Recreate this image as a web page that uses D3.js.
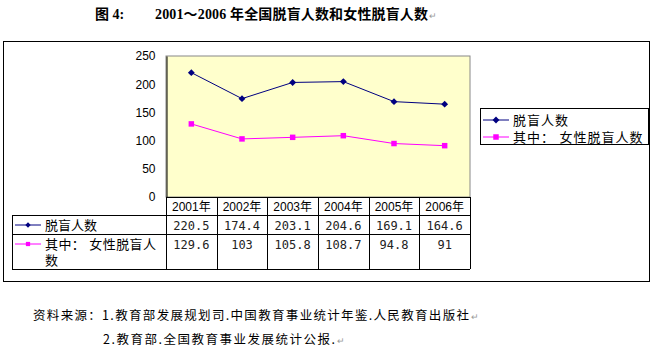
<!DOCTYPE html>
<html>
<head>
<meta charset="utf-8">
<script src="https://cdn.jsdelivr.net/npm/d3@7"></script>
<style>
body { margin: 0; background: #fff; }
text { font-family: "Liberation Sans", "Noto Sans CJK SC", sans-serif; }
</style>
</head>
<body>
<svg width="652" height="352"></svg>
<script>
var svg = d3.select("svg");

// Data
var years = ["2001年", "2002年", "2003年", "2004年", "2005年", "2006年"];
var total = [220.5, 174.4, 203.1, 204.6, 169.1, 164.6];
var female = [129.6, 103, 105.8, 108.7, 94.8, 91];
var seriesNames = ["脱盲人数", "其中：女性脱盲人数"];
var yTicks = [0, 50, 100, 150, 200, 250];

var navy = "#000080", pink = "#FF00FF";

// Plot area
var plot = { left: 166, right: 470, top: 56, bottom: 197 };

var xScale = d3.scaleBand().domain(years).range([plot.left, plot.right]);
var yScale = d3.scaleLinear().domain([0, 250]).range([plot.bottom, plot.top]);

function mark(x, y) {
    svg.append("text").attr("x", x).attr("y", y)
        .style("font-size", "9px").style("fill", "#999").text("↵");
}

// Title
var titleFont = "'Liberation Serif', 'Noto Sans CJK SC', serif";
svg.append("text")
    .attr("x", 95).attr("y", 19)
    .style("font-family", titleFont).style("font-weight", "bold").style("font-size", "14px")
    .text("图 4:");
svg.append("text")
    .attr("x", 155).attr("y", 19)
    .attr("textLength", 273).attr("lengthAdjust", "spacing")
    .style("font-family", titleFont).style("font-weight", "bold").style("font-size", "14px")
    .text("2001～2006 年全国脱盲人数和女性脱盲人数");
mark(429, 19);

// Outer frame
svg.append("rect")
    .attr("x", 3.5).attr("y", 41.5)
    .attr("width", 646).attr("height", 240)
    .attr("fill", "white").attr("stroke", "black");

// Plot background
svg.append("rect")
    .attr("x", plot.left).attr("y", plot.top)
    .attr("width", plot.right - plot.left).attr("height", plot.bottom - plot.top)
    .attr("fill", "#FFFFCC").attr("stroke", "#888");

// Y axis
var yAxis = d3.axisLeft(yScale).tickValues(yTicks).tickSize(0).tickPadding(6);
var yG = svg.append("g")
    .attr("transform", "translate(" + (plot.left + 0.5) + ",0)")
    .call(yAxis);
yG.select(".domain").attr("stroke", "black");
yG.selectAll("text").style("font-size", "12px").style("font-family", "'Liberation Sans', sans-serif").attr("x", -11);

// Lines
var line = d3.line()
    .x((d, i) => xScale(years[i]) + xScale.bandwidth() / 2)
    .y(d => yScale(d));

svg.append("path").datum(total)
    .attr("d", line).attr("fill", "none").attr("stroke", navy).attr("stroke-width", 1);
svg.append("path").datum(female)
    .attr("d", line).attr("fill", "none").attr("stroke", pink).attr("stroke-width", 1);

var diamond = d3.symbol().type(d3.symbolDiamond2).size(30);
var square = d3.symbol().type(d3.symbolSquare).size(30);

svg.selectAll(".dia").data(total).enter().append("path")
    .attr("class", "dia")
    .attr("d", diamond)
    .attr("transform", (d, i) => "translate(" + (xScale(years[i]) + xScale.bandwidth() / 2) + "," + yScale(d) + ")")
    .attr("fill", navy);

svg.selectAll(".sq").data(female).enter().append("path")
    .attr("class", "sq")
    .attr("d", square)
    .attr("transform", (d, i) => "translate(" + (xScale(years[i]) + xScale.bandwidth() / 2) + "," + yScale(d) + ")")
    .attr("fill", pink);

// Data table
var tableLeft = 12;
var rowY = [plot.bottom, 215, 234, 269];
var tg = svg.append("g").attr("stroke", "black").attr("shape-rendering", "crispEdges");

tg.append("line").attr("x1", plot.left).attr("x2", plot.right).attr("y1", rowY[0] + 0.5).attr("y2", rowY[0] + 0.5);
[1, 2, 3].forEach(r => {
    tg.append("line").attr("x1", tableLeft).attr("x2", plot.right)
        .attr("y1", rowY[r] + 0.5).attr("y2", rowY[r] + 0.5);
});
tg.append("line").attr("x1", tableLeft + 0.5).attr("x2", tableLeft + 0.5).attr("y1", rowY[1]).attr("y2", rowY[3]);
years.forEach(y => {
    tg.append("line").attr("x1", xScale(y) + 0.5).attr("x2", xScale(y) + 0.5).attr("y1", rowY[0]).attr("y2", rowY[3]);
});
tg.append("line").attr("x1", plot.right + 0.5).attr("x2", plot.right + 0.5).attr("y1", rowY[0]).attr("y2", rowY[3]);

// year headers
svg.selectAll(".yr").data(years).enter().append("text")
    .attr("x", d => xScale(d) + xScale.bandwidth() / 2)
    .attr("y", 211)
    .attr("text-anchor", "middle")
    .style("font-size", "12px")
    .text(d => d);

// values
[total, female].forEach((vals, r) => {
    svg.selectAll(".v" + r).data(vals).enter().append("text")
        .attr("x", (d, i) => xScale(years[i]) + xScale.bandwidth() / 2)
        .attr("y", r === 0 ? 230 : 249)
        .attr("text-anchor", "middle")
        .style("font-size", "12px")
        .style("font-family", "'DejaVu Sans Mono', monospace")
        .style("fill", "#222")
        .text(d => d);
});

// row labels with keys
function key(g, x, y, color, sym) {
    g.append("line").attr("x1", x).attr("x2", x + 26).attr("y1", y).attr("y2", y)
        .attr("stroke", color);
    g.append("path").attr("d", sym).attr("transform", "translate(" + (x + 13) + "," + y + ")")
        .attr("fill", color);
}
var lg = svg.append("g");
key(lg, 15, 225, navy, d3.symbol().type(d3.symbolDiamond2).size(18));
key(lg, 15, 244, pink, d3.symbol().type(d3.symbolSquare).size(18));
lg.append("text").attr("x", 45).attr("y", 230).style("font-size", "13px").text(seriesNames[0]);
lg.append("text").attr("x", 45).attr("y", 249).style("font-size", "13px")
    .attr("textLength", 111).attr("lengthAdjust", "spacing").text("其中： 女性脱盲人");
lg.append("text").attr("x", 45).attr("y", 265).style("font-size", "13px").text("数");

// Legend
svg.append("rect")
    .attr("x", 480.5).attr("y", 108.5).attr("width", 168).attr("height", 36)
    .attr("fill", "white").attr("stroke", "black");
key(svg, 483, 120, navy, diamond);
key(svg, 483, 137, pink, square);
svg.append("text").attr("x", 513).attr("y", 125).style("font-size", "13px").style("letter-spacing", "1px").text(seriesNames[0]);
svg.append("text").attr("x", 513).attr("y", 142).style("font-size", "13px").style("letter-spacing", "1px").text("其中： 女性脱盲人数");

// Source notes
svg.append("text").attr("x", 33).attr("y", 320)
    .attr("textLength", 436).attr("lengthAdjust", "spacing")
    .style("font-size", "12.5px").style("font-family", "'Noto Sans CJK SC', sans-serif")
    .text("资料来源：1.教育部发展规划司.中国教育事业统计年鉴.人民教育出版社");
mark(471, 320);
svg.append("text").attr("x", 103).attr("y", 344)
    .attr("textLength", 232).attr("lengthAdjust", "spacing")
    .style("font-size", "12.5px").style("font-family", "'Noto Sans CJK SC', sans-serif")
    .text("2.教育部.全国教育事业发展统计公报.");
mark(337, 344);
</script>
</body>
</html>
